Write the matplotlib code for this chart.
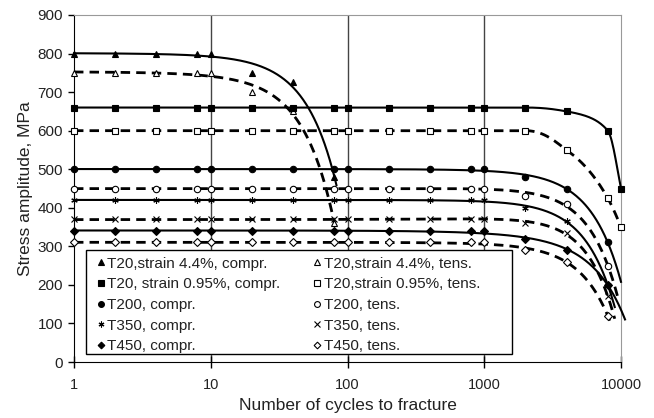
import numpy as np
import matplotlib
matplotlib.use('Agg')
import matplotlib.pyplot as plt
from matplotlib.lines import Line2D
from matplotlib.patches import Rectangle

plt.rcParams['font.family'] = ['Liberation Sans', 'DejaVu Sans']

# ---------------- data ----------------
cycles_44 = [1, 2, 4, 8, 10, 20, 40, 80]
cycles_full = [1, 2, 4, 8, 10, 20, 40, 80, 100, 200, 400, 800, 1000, 2000, 4000, 8000]
cycles_095 = [1, 2, 4, 8, 10, 20, 40, 80, 100, 200, 400, 800, 1000, 2000, 4000, 8000, 10000]

t20_44_compr = [800, 800, 800, 800, 800, 750, 725, 480]
t20_44_tens = [750, 750, 750, 750, 750, 700, 650, 360]
t20_095_compr = [660, 660, 660, 660, 660, 660, 660, 660, 660, 660, 660, 660, 660, 660, 650, 600, 450]
t20_095_tens = [600, 600, 600, 600, 600, 600, 600, 600, 600, 600, 600, 600, 600, 600, 550, 425, 350]
t200_compr = [500, 500, 500, 500, 500, 500, 500, 500, 500, 500, 500, 500, 500, 480, 450, 310]
t200_tens = [450, 450, 450, 450, 450, 450, 450, 450, 450, 450, 450, 450, 450, 430, 410, 250]
t350_compr = [420, 420, 420, 420, 420, 420, 420, 420, 420, 420, 420, 420, 420, 400, 365, 200]
t350_tens = [370, 370, 370, 370, 370, 370, 370, 370, 370, 370, 370, 370, 370, 360, 335, 170]
t450_compr = [340, 340, 340, 340, 340, 340, 340, 340, 340, 340, 340, 340, 340, 320, 290, 200]
t450_tens = [310, 310, 310, 310, 310, 310, 310, 310, 310, 310, 310, 310, 310, 290, 260, 120]

labels_compr = ["T20,strain 4.4%, compr.", "T20, strain 0.95%, compr.", "T200, compr.",
                "T350, compr.", "T450, compr."]
labels_tens = ["T20,strain 4.4%, tens.", "T20,strain 0.95%, tens.", "T200, tens.",
               "T350, tens.", "T450, tens."]

x_ticks = [1, 10, 100, 1000, 10000]
y_ticks = [0, 100, 200, 300, 400, 500, 600, 700, 800, 900]

# ---------------- helpers ----------------
def pchip(x, y, xn):
    x = np.asarray(x, float); y = np.asarray(y, float)
    h = np.diff(x); d = np.diff(y) / h
    m = np.zeros_like(y)
    for k in range(1, len(x) - 1):
        if d[k - 1] * d[k] <= 0:
            m[k] = 0
        else:
            w1 = 2 * h[k] + h[k - 1]; w2 = h[k] + 2 * h[k - 1]
            m[k] = (w1 + w2) / (w1 / d[k - 1] + w2 / d[k])
    m[0] = d[0]; m[-1] = d[-1]
    idx = np.clip(np.searchsorted(x, xn) - 1, 0, len(x) - 2)
    t = (xn - x[idx]) / h[idx]
    h00 = 2 * t**3 - 3 * t**2 + 1; h10 = t**3 - 2 * t**2 + t
    h01 = -2 * t**3 + 3 * t**2; h11 = t**3 - t**2
    return h00 * y[idx] + h10 * h[idx] * m[idx] + h01 * y[idx + 1] + h11 * h[idx] * m[idx + 1]

def trend(x, y, method, x_end):
    xn = np.logspace(0, np.log10(x_end), 600)
    if method == 'pchip':
        return xn, pchip(x, y, xn)
    xs = np.max(x)
    p = np.polyfit(np.asarray(x) / xs, y, 2)
    return xn, np.polyval(p, xn / xs)

# ---------------- figure ----------------
W, H = 654, 418
fig = plt.figure(figsize=(W / 100, H / 100), dpi=100)
ax = fig.add_axes([74 / W, 1 - 362 / H, (621 - 74) / W, (362 - 15) / H])
ax.set_xscale('log')
ax.set_xlim(1, 10000)
ax.set_ylim(0, 900)

series = [
    (cycles_44, t20_44_compr, '^', True, '-', 'poly', 83),
    (cycles_44, t20_44_tens, '^', False, '--', 'poly', 80),
    (cycles_095, t20_095_compr, 's', True, '-', 'pchip', 10000),
    (cycles_095, t20_095_tens, 's', False, '--', 'pchip', 10000),
    (cycles_full, t200_compr, 'o', True, '-', 'poly', 10000),
    (cycles_full, t200_tens, 'o', False, '--', 'poly', 9500),
    (cycles_full, t350_compr, (6, 2, 0), True, '-', 'poly', 9000),
    (cycles_full, t350_tens, 'x', True, '--', 'poly', 9000),
    (cycles_full, t450_compr, 'D', True, '-', 'poly', 10700),
    (cycles_full, t450_tens, 'D', False, '--', 'poly', 8500),
]

msize = {'^': 4.6, 's': 4.2, 'o': 4.6, 'D': 3.8, 'x': 4.2, (6, 2, 0): 4.6}
handles = []
for x, y, mk, filled, ls, meth, xend in series:
    xn, yn = trend(x, y, meth, xend)
    if ls == '--':
        ax.plot(xn, yn, color='black', lw=2.0, ls=(0, (3.4, 2.2)), zorder=3, clip_on=False)
    else:
        ax.plot(xn, yn, color='black', lw=1.5, ls='-', zorder=3, clip_on=False)
    fc = 'black' if filled else 'white'
    ms = msize[mk]
    mew = 0.8
    ax.plot(x, y, ls='none', marker=mk, ms=ms, mfc=fc, mec='black', mew=mew, zorder=4,
            clip_on=False)
    handles.append(Line2D([], [], ls='none', marker=mk, ms=ms - 0.4, mfc=fc, mec='black', mew=mew))

# grid & spines
for gx in [10, 100, 1000]:
    ax.axvline(gx, color='#444444', lw=1.0, zorder=1)
ax.spines['top'].set_color('#999999')
ax.spines['right'].set_color('#999999')
ax.spines['left'].set_color('black')
ax.spines['bottom'].set_color('black')

ax.set_xticks(x_ticks)
ax.set_xticklabels([str(v) for v in x_ticks])
ax.xaxis.set_minor_locator(matplotlib.ticker.NullLocator())
ax.set_yticks(y_ticks)
ax.tick_params(axis='x', direction='inout', length=9, width=1, pad=7, labelsize=10.5,
               labelcolor='#222222')
ax.tick_params(axis='y', direction='out', length=4, width=1, pad=4, labelsize=11,
               labelcolor='#222222')

ax.set_ylabel('Stress amplitude, MPa', fontsize=12.5, color='#222222', labelpad=3)
ax.set_xlabel('Number of cycles to fracture', fontsize=12.5, color='#222222', labelpad=4)

# legend frame (drawn separately so its size matches the reference box)
fig.patches.append(Rectangle((86 / W, 1 - 354 / H), (512 - 86) / W, (354 - 250) / H,
                             transform=fig.transFigure, facecolor='white',
                             edgecolor='black', lw=1.0, zorder=2))

order = [0, 2, 4, 6, 8, 1, 3, 5, 7, 9]
all_labels = [labels_compr[0], labels_tens[0], labels_compr[1], labels_tens[1], labels_compr[2],
              labels_tens[2], labels_compr[3], labels_tens[3], labels_compr[4], labels_tens[4]]
leg_handles = [handles[i] for i in order]
leg_labels = [all_labels[i] for i in order]
FS = 11
fs_px = FS * 100 / 72

# target layout of the legend text (pixels from top-left)
text_x1, text_x2 = 107.3, 323.5
row_y_first, row_y_last = 262.3, 345.0

params = dict(anchor=(96.4, 253.0), colsp=1.98, lsp=0.44)

def make_legend(p):
    lg = fig.legend(leg_handles, leg_labels, ncol=2, loc='upper left',
                    bbox_to_anchor=(p['anchor'][0] / W, 1 - p['anchor'][1] / H),
                    frameon=False, fontsize=FS, handlelength=0.4,
                    handletextpad=0.21, columnspacing=p['colsp'],
                    labelspacing=p['lsp'], borderpad=0, borderaxespad=0)
    lg.set_zorder(3)
    for t in lg.get_texts():
        t.set_color('#222222')
    return lg

leg = make_legend(params)
for _ in range(3):
    fig.canvas.draw()
    r = fig.canvas.get_renderer()
    hs = leg.legend_handles
    def ycentre(a):
        b = a.get_window_extent(r)
        return H - (b.y0 + b.y1) / 2
    y0 = ycentre(hs[0]); y4 = ycentre(hs[4])
    tx0 = leg.get_texts()[0].get_window_extent(r).x0
    tx5 = leg.get_texts()[5].get_window_extent(r).x0
    params['lsp'] += ((row_y_last - row_y_first) - (y4 - y0)) / 4 / fs_px
    params['colsp'] += ((text_x2 - text_x1) - (tx5 - tx0)) / fs_px
    params['anchor'] = (params['anchor'][0] + (text_x1 - tx0),
                        params['anchor'][1] + (row_y_first - y0))
    leg.remove()
    leg = make_legend(params)

fig.savefig('out.png', dpi=100)
